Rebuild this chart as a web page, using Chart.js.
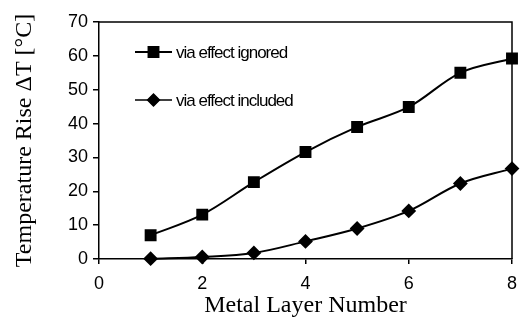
<!DOCTYPE html>
<html>
<head>
<meta charset="utf-8">
<script src="https://cdn.jsdelivr.net/npm/chart.js@4"></script>
<style>
  html, body { margin: 0; padding: 0; background: #fff; }
  #wrap { width: 521px; height: 320px; }
</style>
</head>
<body>
<div id="wrap"><canvas id="tempChart" width="521" height="320"></canvas></div>
<script>
const layers = [1, 2, 3, 4, 5, 6, 7, 8];
const viaIgnored = [7.0, 13.1, 22.7, 31.6, 39.0, 44.9, 55.0, 59.2];
const viaIncluded = [0.1, 0.6, 1.8, 5.2, 9.0, 14.2, 22.3, 26.7];
const xTicks = [0, 2, 4, 6, 8];
const yTicks = [0, 10, 20, 30, 40, 50, 60, 70];
const seriesNames = ["via effect ignored", "via effect included"];

const toPoints = (ys) => layers.map((x, i) => ({ x: x, y: ys[i] }));

// frame on top/right + legend drawn inside the plot area
const framePlugin = {
  id: "frame",
  afterDraw(chart) {
    const { ctx, chartArea: a } = chart;
    ctx.save();
    ctx.strokeStyle = "#000";
    ctx.lineWidth = 1.5;
    ctx.beginPath();
    ctx.moveTo(a.left, a.top);
    ctx.lineTo(a.right, a.top);
    ctx.lineTo(a.right, a.bottom);
    ctx.stroke();

    const rows = [
      { y: 52, style: "rect", r: 7, lw: 2 },
      { y: 100, style: "rectRot", r: 6, lw: 1.4 }
    ];
    ctx.font = "17px 'Liberation Sans', Arial, sans-serif";
    ctx.letterSpacing = "-1px";
    ctx.textBaseline = "middle";
    ctx.fillStyle = "#000";
    rows.forEach((row, i) => {
      ctx.lineWidth = row.lw;
      ctx.beginPath();
      ctx.moveTo(135, row.y);
      ctx.lineTo(172, row.y);
      ctx.stroke();
      Chart.helpers.drawPoint(ctx, { pointStyle: row.style, radius: row.r, rotation: 0, borderWidth: 1 }, 153.5, row.y);
      ctx.fill();
      ctx.fillText(seriesNames[i], 176, row.y + 1);
    });
    ctx.restore();
  }
};

new Chart(document.getElementById("tempChart"), {
  type: "line",
  data: {
    datasets: [{
      label: seriesNames[0],
      data: toPoints(viaIgnored),
      borderColor: "#000",
      backgroundColor: "#000",
      borderWidth: 2,
      pointStyle: "rect",
      pointRadius: 7,
      pointHoverRadius: 7,
      tension: 0.35,
      clip: false
    }, {
      label: seriesNames[1],
      data: toPoints(viaIncluded),
      borderColor: "#000",
      backgroundColor: "#000",
      borderWidth: 2,
      pointStyle: "rectRot",
      pointRadius: 6,
      pointHoverRadius: 6,
      tension: 0.35,
      clip: false
    }]
  },
  options: {
    responsive: false,
    animation: false,
    layout: { padding: { top: 22, right: 7, left: 0, bottom: 0 } },
    plugins: { legend: { display: false }, tooltip: { enabled: false } },
    scales: {
      x: {
        type: "linear",
        min: 0,
        max: 8,
        afterBuildTicks: (s) => { s.ticks = xTicks.map(v => ({ value: v })); },
        afterFit: (s) => { s.height = 61; s.paddingRight = 0; s.paddingLeft = 0; },
        ticks: {
          color: "#000",
          padding: 9,
          maxRotation: 0,
          font: { family: "'Liberation Sans', Arial, sans-serif", size: 18 }
        },
        grid: { drawOnChartArea: false, drawTicks: true, tickLength: 5, color: "#000", lineWidth: 1.5 },
        border: { display: true, color: "#000", width: 1.5 },
        title: {
          display: true,
          text: "Metal Layer Number",
          color: "#000",
          padding: { top: 0, bottom: 0 },
          font: { family: "'Liberation Serif', 'Times New Roman', serif", size: 24 }
        }
      },
      y: {
        min: 0,
        max: 70,
        afterBuildTicks: (s) => { s.ticks = yTicks.map(v => ({ value: v })); },
        afterFit: (s) => { s.width = 99; s.paddingTop = 0; s.paddingBottom = 0; },
        ticks: {
          color: "#000",
          padding: 5,
          font: { family: "'Liberation Sans', Arial, sans-serif", size: 18 }
        },
        grid: { drawOnChartArea: false, drawTicks: true, tickLength: 6, color: "#000", lineWidth: 1.5 },
        border: { display: true, color: "#000", width: 1.5 },
        title: {
          display: true,
          text: "Temperature Rise ΔT [°C]",
          color: "#000",
          padding: { top: 10, bottom: 0 },
          font: { family: "'Liberation Serif', 'Times New Roman', serif", size: 24 }
        }
      }
    }
  },
  plugins: [framePlugin]
});
</script>
</body>
</html>
